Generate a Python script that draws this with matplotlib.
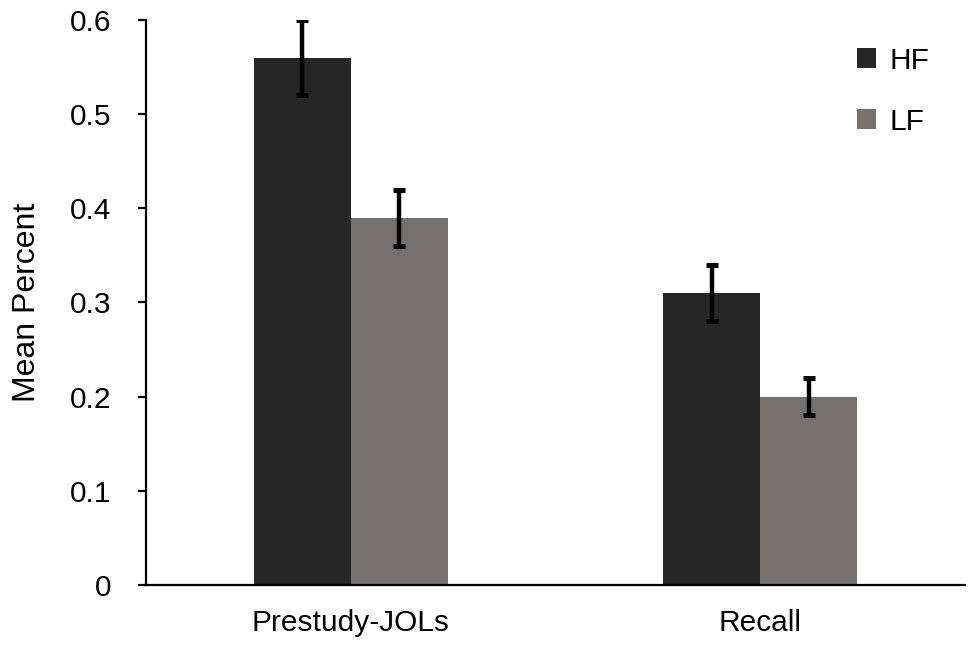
import matplotlib
matplotlib.use("Agg")
import matplotlib.pyplot as plt
import numpy as np

# Mean percent by condition
categories = ["Prestudy-JOLs", "Recall"]
hf_means = [0.56, 0.31]
hf_errors = [0.04, 0.03]
lf_means = [0.39, 0.20]
lf_errors = [0.03, 0.02]

plt.rcParams["font.family"] = ["Liberation Sans", "DejaVu Sans"]

fig = plt.figure(figsize=(9.75, 6.52), dpi=100)
ax = fig.add_axes([0.1497, 0.1028, 0.840, 0.8665])

x = np.arange(len(categories))
width = 0.237
err_style = dict(ecolor="black", elinewidth=3.2, capsize=4.5, capthick=3.6)

ax.bar(x - width / 2, hf_means, width, yerr=hf_errors, color="#262626",
       label="HF", error_kw=err_style)
ax.bar(x + width / 2, lf_means, width, yerr=lf_errors, color="#767171",
       label="LF", error_kw=err_style)

ax.set_xlim(-0.5, 1.5)
ax.set_ylim(0, 0.6)
ax.set_yticks(np.arange(0, 0.61, 0.1))
ax.set_yticklabels(["0", "0.1", "0.2", "0.3", "0.4", "0.5", "0.6"])
ax.set_xticks(x)
ax.set_xticklabels(categories)

for side in ["top", "right"]:
    ax.spines[side].set_visible(False)
for side in ["left", "bottom"]:
    ax.spines[side].set_linewidth(1.6)
    ax.spines[side].set_color("black")

ax.tick_params(axis="y", direction="out", length=6, width=1.6,
               labelsize=21.5, pad=19)
ax.tick_params(axis="x", length=0, labelsize=21.5, pad=17)
ax.set_ylabel("Mean Percent", fontsize=23, labelpad=20)

ax.legend(loc="upper right", bbox_to_anchor=(0.99, 1.0), frameon=False,
          fontsize=21.5, handlelength=0.65, handleheight=0.65,
          handletextpad=0.45, labelspacing=1.1)

fig.savefig("out.png", dpi=100)
